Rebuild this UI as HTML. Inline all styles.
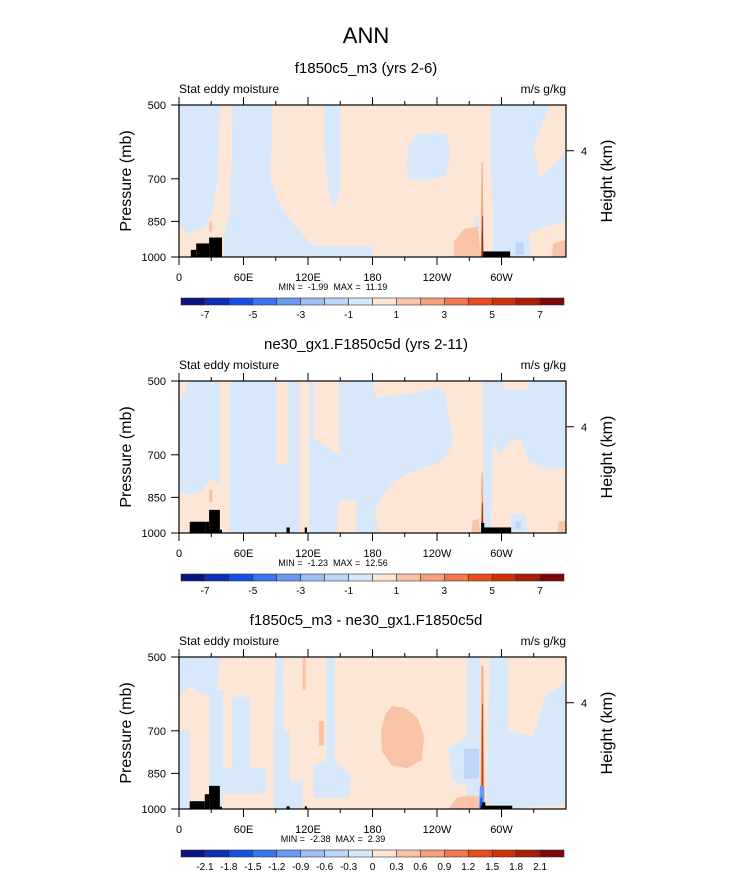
<!DOCTYPE html>
<html><head><meta charset="utf-8"><style>
body{margin:0;background:#fff;}
svg{display:block;font-family:"Liberation Sans",sans-serif;}
.pre{white-space:pre;}
</style></head><body>
<svg id="fig" width="733" height="888" viewBox="0 0 733 888" xmlns="http://www.w3.org/2000/svg">
<text x="366" y="43" font-size="22" text-anchor="middle">ANN</text>
</svg>
<script>
// ---- data ----
const lonTicks = [0, 60, 120, 180, 240, 300];
const lonTickLabels = ["0", "60E", "120E", "180", "120W", "60W"];
const presTicks = [500, 700, 850, 1000];
const panelTitles = ["f1850c5_m3 (yrs 2-6)", "ne30_gx1.F1850c5d (yrs 2-11)", "f1850c5_m3 - ne30_gx1.F1850c5d"];
const panelMin = ["-1.99", "-1.23", "-2.38"];
const panelMax = ["11.19", "12.56", "2.39"];
const cbLabelsAbs = ["-7","","-5","","-3","","-1","","1","","3","","5","","7"];
const cbLabelsDiff = ["-2.1","-1.8","-1.5","-1.2","-0.9","-0.6","-0.3","0","0.3","0.6","0.9","1.2","1.5","1.8","2.1"];
const palette = ["#0b1380","#0c2fb8","#1550e6","#3a74ef","#6b98f1","#9dbdf4","#bdd5f7","#d6e8fa","#fde6d5","#f9c3a8","#f6a07d","#f2774c","#ec4b1d","#cf300a","#aa1e08","#7e0606"];
// regions: [colorIndex, [[lon,pressure],...]]
const panel1Regions = [
 [7, [[0,500],[38,500],[36,700],[32,800],[25,870],[10,900],[0,860]]],
 [7, [[50,500],[87,500],[85,700],[95,800],[110,880],[125,950],[180,955],[180,1000],[42,1000],[42,900],[48,800]]],
 [7, [[135,500],[150,500],[150,720],[145,800],[140,760],[135,600]]],
 [7, [[214,600],[222,572],[240,566],[250,575],[252,640],[248,690],[230,703],[213,700],[212,650]]],
 [7, [[290,500],[345,500],[330,600],[335,700],[360,620],[360,850],[340,870],[325,900],[328,1000],[292,1000],[292,800],[290,650]]],
 [7, [[275,830],[279,830],[280,880],[276,880]]],
 [6, [[313,935],[320,935],[321,990],[313,990]]],
 [9, [[256,1000],[256,930],[265,880],[278,870],[281,1000]]],
 [9, [[347,1000],[348,940],[360,925],[360,1000]]],
 [9, [[28,850],[31,850],[31,890],[28,890]]],
 [10,[[281.6,650],[282.4,650],[283.5,1000],[280.8,1000]]],
 [14,[[281.9,830],[282.5,830],[283,1000],[281.4,1000]]]
];
const panel1Terrain = [[11,16,968],[16,28,940],[28,40,915],[283,308,975]];
const panel2Regions = [
 [7, [[10,500],[38,500],[38,800],[30,780],[20,830],[10,840],[0,830],[0,560]]],
 [7, [[47,500],[90,500],[90,1000],[47,1000]]],
 [7, [[101,500],[112,500],[112,1000],[101,1000]]],
 [7, [[121,500],[125,500],[125,1000],[121,1000]]],
 [7, [[90,730],[101,730],[101,1000],[90,1000]]],
 [7, [[125,650],[149,700],[149,860],[146,1000],[125,1000]]],
 [7, [[149,500],[180,500],[183,540],[200,535],[215,530],[240,515],[248,530],[250,580],[255,650],[250,700],[240,730],[220,750],[200,790],[190,840],[182,900],[186,1000],[165,1000],[165,860],[149,860]]],
 [7, [[283,500],[300,500],[302,520],[324,520],[326,500],[360,500],[360,740],[345,750],[325,720],[318,650],[308,660],[298,700],[292,660],[290,1000],[283,1000]]],
 [7, [[309,920],[322,915],[324,1000],[308,1000]]],
 [6, [[313,950],[318,950],[318,980],[313,980]]],
 [9, [[272,1000],[273,945],[279,935],[280,1000]]],
 [9, [[352,1000],[353,950],[360,945],[360,1000]]],
 [9, [[28,820],[31,820],[31,870],[28,870]]],
 [10,[[281.6,760],[282.4,760],[283.5,1000],[280.8,1000]]],
 [14,[[281.9,870],[282.5,870],[283,1000],[281.4,1000]]]
];
const panel2Terrain = [[10,25,950],[25,28,950],[28,38,900],[38,40,985],[100,103,975],[117,119,975],[281,309,975],[281,284,955]];
const panel3Regions = [
 [7, [[0,500],[38,500],[36,560],[30,600],[20,590],[10,570],[0,600]]],
 [7, [[0,700],[10,700],[10,1000],[0,1000]]],
 [7, [[28,580],[41,580],[41,1000],[28,1000]]],
 [7, [[49,600],[66,600],[66,880],[49,880]]],
 [7, [[41,830],[81,830],[81,930],[41,930]]],
 [7, [[90,500],[97,500],[97,700],[103,700],[103,1000],[88,1000],[88,700]]],
 [7, [[98,880],[115,880],[115,1000],[98,1000]]],
 [7, [[137,500],[145,500],[145,800],[160,860],[158,950],[125,950],[125,820],[137,800]]],
 [7, [[268,500],[280,500],[280,1000],[268,1000]]],
 [7, [[289,500],[306,500],[306,700],[330,720],[340,600],[360,560],[360,980],[330,990],[300,1000],[286,1000]]],
 [7, [[250,760],[268,720],[268,900],[255,880]]],
 [6, [[265,760],[279,760],[279,870],[265,870]]],
 [9, [[115,500],[118,500],[118,580],[115,580]]],
 [9, [[130,670],[135,670],[135,750],[130,750]]],
 [9, [[198,625],[210,630],[222,660],[228,720],[226,800],[212,830],[198,820],[189,770],[188,700],[192,650]]],
 [9, [[251,1000],[258,950],[270,940],[279,945],[279,1000]]],
 [10,[[281.5,520],[283,520],[284,950],[280.5,950]]],
 [13,[[281.9,620],[282.6,620],[283,900],[281.5,900]]],
 [4, [[280,900],[284,900],[284,1000],[279,1000]]],
 [2, [[280.5,950],[282,950],[282,1000],[280,1000]]]
];
const panel3Terrain = [[10,24,965],[24,28,935],[28,38,900],[38,40,990],[100,103,988],[117,119,988],[281,310,985],[282,285,970]];

// ---- drawing ----
const NS = "http://www.w3.org/2000/svg";
const svg = document.getElementById('fig');
const PX0 = 179, PX1 = 566, PH = 152;
const tops = [105, 381, 657];
function xS(lon){ return PX0 + lon * (PX1 - PX0) / 360; }
function yS(p, top){ return top + PH * Math.log(p / 500) / Math.log(2); }
function mk(tag, attrs, parent){
  const e = document.createElementNS(NS, tag);
  for (const k in attrs) e.setAttribute(k, attrs[k]);
  (parent || svg).appendChild(e);
  return e;
}
const allRegions = [panel1Regions, panel2Regions, panel3Regions];
const allTerrain = [panel1Terrain, panel2Terrain, panel3Terrain];

for (let i = 0; i < 3; i++){
  const top = tops[i], bot = top + PH;
  const g = mk('g', {});
  
  
  const t = mk('text', {x: 366, y: top - 32, 'font-size': 15, 'text-anchor': 'middle'}, g);
  t.textContent = panelTitles[i];
  
  
  const l = mk('text', {x: PX0, y: top - 12, 'font-size': 12}, g);
  l.textContent = 'Stat eddy moisture';
  
  
  const r = mk('text', {x: PX1, y: top - 12, 'font-size': 12, 'text-anchor': 'end'}, g);
  r.textContent = 'm/s g/kg';
  
  
  const bg = mk('rect', {x: PX0, y: top, width: PX1 - PX0, height: PH, fill: palette[8]}, g);
  
  
  for (const reg of allRegions[i]){
    const pts = reg[1].map(q => xS(q[0]).toFixed(1) + ',' + yS(q[1], top).toFixed(1)).join(' ');
    const pg = mk('polygon', {points: pts, fill: palette[reg[0]]}, g);
    
    
  }
  for (const tr of allTerrain[i]){
    const rc = mk('rect', {x: xS(tr[0]), y: yS(tr[2], top), width: xS(tr[1]) - xS(tr[0]), height: bot - yS(tr[2], top), fill: '#000'}, g);
    
    
  }
  const fr = mk('rect', {x: PX0, y: top, width: PX1 - PX0, height: PH, fill: 'none', stroke: '#000', 'stroke-width': 1.2}, g);
  
  
  for (let lon = 0; lon < 360; lon += 30){
    const major = lon % 60 === 0, len = major ? 8 : 4, x = xS(lon);
    const tk1 = mk('line', {x1: x, x2: x, y1: bot, y2: bot + len, stroke: '#000', 'stroke-width': 1}, g);
    
    
    const tk2 = mk('line', {x1: x, x2: x, y1: top, y2: top - len, stroke: '#000', 'stroke-width': 1}, g);
    
    
  }
  lonTicks.forEach((lon, k) => {
    const tx = mk('text', {x: xS(lon), y: bot + 24, 'font-size': 11, 'text-anchor': 'middle'}, g);
    tx.textContent = lonTickLabels[k];
    
    
  });
  presTicks.forEach(p => {
    const y = yS(p, top);
    const tk = mk('line', {x1: PX0 - 8, x2: PX0, y1: y, y2: y, stroke: '#000'}, g);
    
    
    const ty = mk('text', {x: PX0 - 13, y: y + 4, 'font-size': 11, 'text-anchor': 'end'}, g);
    ty.textContent = p;
    
    
  });
  const yh = yS(616, top);
  const rt = mk('line', {x1: PX1, x2: PX1 + 8, y1: yh, y2: yh, stroke: '#000'}, g);
  
  
  const rl = mk('text', {x: PX1 + 15, y: yh + 4, 'font-size': 11}, g);
  rl.textContent = '4';
  
  
  const ya = mk('text', {x: 0, y: 0, 'font-size': 16, 'text-anchor': 'middle', transform: 'translate(131,' + (top + 76) + ') rotate(-90)'}, g);
  ya.textContent = 'Pressure (mb)';
  
  
  const ha = mk('text', {x: 0, y: 0, 'font-size': 16, 'text-anchor': 'middle', transform: 'translate(612,' + (top + 76) + ') rotate(-90)'}, g);
  ha.textContent = 'Height (km)';
  
  
  const mm = mk('text', {x: 333, y: bot + 33, 'font-size': 9, 'text-anchor': 'middle', 'class': 'pre'}, g);
  mm.textContent = 'MIN =  ' + panelMin[i] + '  MAX =  ' + panelMax[i];
  
  
  const cy = bot + 41, cx0 = 181, cw = 383 / 16;
  const cb = mk('g', {}, g);
  
  
  for (let k = 0; k < 16; k++){
    const b = mk('rect', {x: cx0 + k * cw, y: cy, width: cw, height: 7, fill: palette[k], stroke: '#333', 'stroke-width': 0.6}, cb);
    
    
  }
  const labs = i === 2 ? cbLabelsDiff : cbLabelsAbs;
  labs.forEach((s, k) => {
    if (!s) return;
    const lt = mk('text', {x: cx0 + (k + 1) * cw, y: cy + 20, 'font-size': 10, 'text-anchor': 'middle'}, cb);
    lt.textContent = s;
    
    
  });
}
</script>
</body></html>
